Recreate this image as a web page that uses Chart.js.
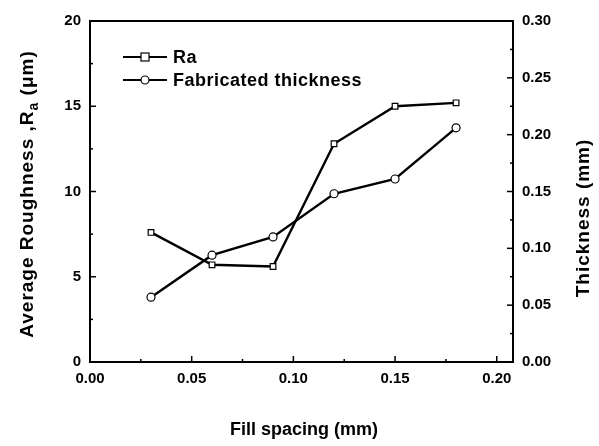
<!DOCTYPE html>
<html>
<head>
<meta charset="utf-8">
<script src="https://cdn.jsdelivr.net/npm/chart.js@4"></script>
<style>
  html, body { margin: 0; padding: 0; background: #fff; }
  #wrap { width: 599px; height: 446px; }
</style>
</head>
<body>
<div id="wrap"><canvas id="chart" width="599" height="446"></canvas></div>
<script>
// values
const fillSpacing = [0.03, 0.06, 0.09, 0.12, 0.15, 0.18];
const raValues = [7.6, 5.7, 5.6, 12.8, 15.0, 15.2];
const thicknessValues = [0.057, 0.094, 0.110, 0.148, 0.161, 0.206];

const xTicks = [0, 0.05, 0.10, 0.15, 0.20];
const raTicks = [0, 5, 10, 15, 20];
const thickTicks = [0, 0.05, 0.10, 0.15, 0.20, 0.25, 0.30];

const FONT = 'Liberation Sans, Arial, sans-serif';

function pts(xs, ys) {
  return xs.map((x, i) => ({ x, y: ys[i] }));
}

function keepTicks(list) {
  return function (scale) {
    scale.ticks = list.map(v => ({ value: v }));
  };
}

// frame, inward ticks, legend and axis titles
const decorations = {
  id: 'decorations',
  afterDraw(chart) {
    const ctx = chart.ctx;
    const a = chart.chartArea;
    const sx = chart.scales.x, sy = chart.scales.y, sy2 = chart.scales.y2;
    ctx.save();
    ctx.strokeStyle = '#000';
    ctx.lineWidth = 2;
    ctx.strokeRect(a.left, a.top, a.right - a.left, a.bottom - a.top);

    ctx.lineWidth = 1.5;
    const tick = (x1, y1, x2, y2) => {
      ctx.beginPath(); ctx.moveTo(x1, y1); ctx.lineTo(x2, y2); ctx.stroke();
    };
    // bottom
    for (let i = 0; i < xTicks.length; i++) {
      const px = sx.getPixelForValue(xTicks[i]);
      tick(px, a.bottom, px, a.bottom - 6);
      const mid = xTicks[i] + 0.025;
      if (mid < sx.max) {
        const pm = sx.getPixelForValue(mid);
        tick(pm, a.bottom, pm, a.bottom - 3);
      }
    }
    // left
    for (let i = 0; i < raTicks.length; i++) {
      const py = sy.getPixelForValue(raTicks[i]);
      tick(a.left, py, a.left + 6, py);
      if (i < raTicks.length - 1) {
        const pm = sy.getPixelForValue(raTicks[i] + 2.5);
        tick(a.left, pm, a.left + 3, pm);
      }
    }
    // right
    for (let i = 0; i < thickTicks.length; i++) {
      const py = sy2.getPixelForValue(thickTicks[i]);
      tick(a.right, py, a.right - 6, py);
      if (i < thickTicks.length - 1) {
        const pm = sy2.getPixelForValue(thickTicks[i] + 0.025);
        tick(a.right, pm, a.right - 3, pm);
      }
    }

    // legend
    ctx.lineWidth = 2.2;
    ctx.fillStyle = '#000';
    ctx.font = 'bold 18px ' + FONT;
    ctx.letterSpacing = '0.5px';
    ctx.textBaseline = 'middle';
    const legend = [
      { label: 'Ra', y: 57, shape: 'rect' },
      { label: 'Fabricated thickness', y: 80, shape: 'circle' }
    ];
    legend.forEach(item => {
      tick(123, item.y, 167, item.y);
      ctx.fillStyle = '#fff';
      ctx.lineWidth = 1.2;
      if (item.shape === 'rect') {
        ctx.fillRect(141, item.y - 4, 8, 8);
        ctx.strokeRect(141, item.y - 4, 8, 8);
      } else {
        ctx.beginPath(); ctx.arc(145, item.y, 4, 0, Math.PI * 2);
        ctx.fill(); ctx.stroke();
      }
      ctx.lineWidth = 2.2;
      ctx.fillStyle = '#000';
      ctx.fillText(item.label, 173, item.y + 1);
    });

    // x title
    ctx.letterSpacing = '0px';
    ctx.textAlign = 'center';
    ctx.font = 'bold 18px ' + FONT;
    ctx.fillText('Fill spacing (mm)', 304, 430);

    // right title
    ctx.save();
    ctx.letterSpacing = '1px';
    ctx.font = 'bold 19px ' + FONT;
    ctx.translate(584, 218);
    ctx.rotate(-Math.PI / 2);
    ctx.fillText('Thickness (mm)', 0, 0);
    ctx.restore();

    // left title with subscript
    ctx.save();
    ctx.letterSpacing = '1px';
    ctx.translate(28, 194);
    ctx.rotate(-Math.PI / 2);
    const p1 = 'Average Roughness ,R';
    const sub = 'a';
    const p2 = ' (\u03bcm)';
    ctx.font = 'bold 19px ' + FONT;
    const w1 = ctx.measureText(p1).width;
    const w3 = ctx.measureText(p2).width;
    ctx.font = 'bold 14px ' + FONT;
    const w2 = ctx.measureText(sub).width;
    let x0 = -(w1 + w2 + w3) / 2;
    ctx.textAlign = 'left';
    ctx.font = 'bold 19px ' + FONT;
    ctx.fillText(p1, x0, 0);
    ctx.font = 'bold 14px ' + FONT;
    ctx.fillText(sub, x0 + w1, 6);
    ctx.font = 'bold 19px ' + FONT;
    ctx.fillText(p2, x0 + w1 + w2, 0);
    ctx.restore();

    ctx.restore();
  }
};

const tickFont = { family: FONT, size: 15, weight: 'bold' };

new Chart(document.getElementById('chart'), {
  type: 'line',
  data: {
    datasets: [
      {
        label: 'Ra',
        data: pts(fillSpacing, raValues),
        yAxisID: 'y',
        borderColor: '#000',
        borderWidth: 2.4,
        pointStyle: 'rect',
        pointRadius: 4,
        pointBackgroundColor: '#fff',
        pointBorderColor: '#000',
        pointBorderWidth: 1.2,
        tension: 0
      },
      {
        label: 'Fabricated thickness',
        data: pts(fillSpacing, thicknessValues),
        yAxisID: 'y2',
        borderColor: '#000',
        borderWidth: 2.4,
        pointStyle: 'circle',
        pointRadius: 4,
        pointBackgroundColor: '#fff',
        pointBorderColor: '#000',
        pointBorderWidth: 1.2,
        tension: 0
      }
    ]
  },
  options: {
    responsive: false,
    animation: false,
    layout: { padding: { top: 21, left: 0, right: 0, bottom: 0 } },
    plugins: {
      legend: { display: false },
      tooltip: { enabled: false }
    },
    scales: {
      x: {
        type: 'linear',
        min: 0,
        max: 0.208,
        afterBuildTicks: keepTicks(xTicks),
        afterFit: s => { s.height = 84; },
        grid: { display: false, drawTicks: false },
        border: { display: false },
        ticks: {
          color: '#000',
          font: tickFont,
          padding: 8,
          maxRotation: 0,
          callback: v => v.toFixed(2)
        }
      },
      y: {
        position: 'left',
        min: 0,
        max: 20,
        afterBuildTicks: keepTicks(raTicks),
        afterFit: s => { s.width = 90; },
        grid: { display: false, drawTicks: false },
        border: { display: false },
        ticks: { color: '#000', font: tickFont, padding: 9 }
      },
      y2: {
        position: 'right',
        min: 0,
        max: 0.30,
        afterBuildTicks: keepTicks(thickTicks),
        afterFit: s => { s.width = 86; },
        grid: { display: false, drawTicks: false },
        border: { display: false },
        ticks: {
          color: '#000',
          font: tickFont,
          padding: 9,
          callback: v => v.toFixed(2)
        }
      }
    }
  },
  plugins: [decorations]
});
</script>
</body>
</html>
